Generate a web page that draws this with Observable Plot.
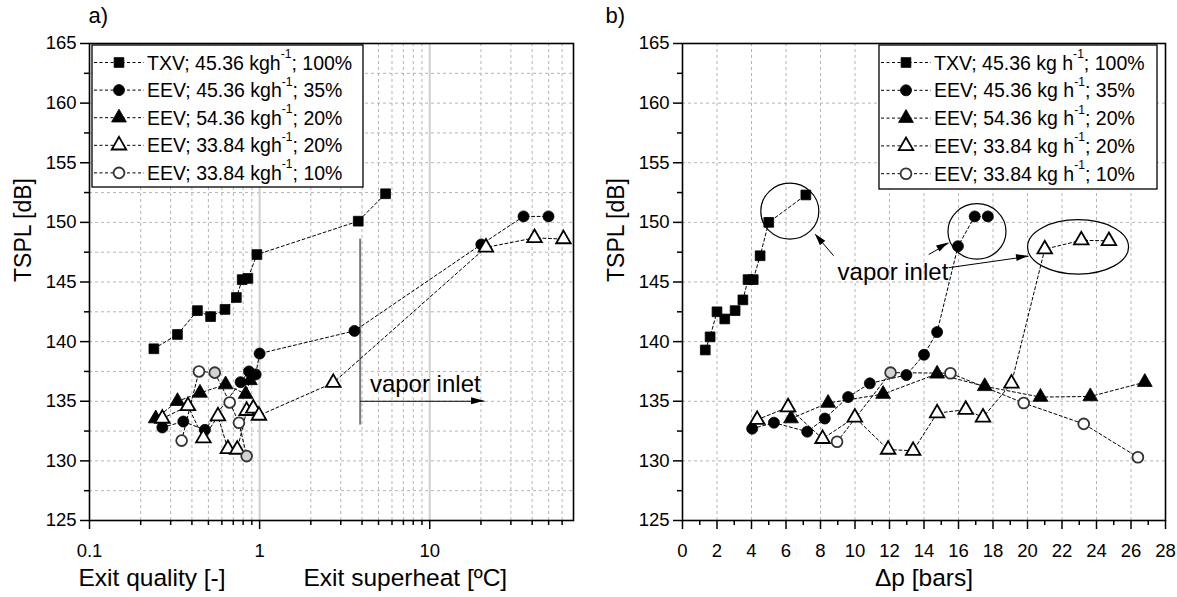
<!DOCTYPE html>
<html><head><meta charset="utf-8">
<script src="https://cdn.jsdelivr.net/npm/d3@7"></script>
<script src="https://cdn.jsdelivr.net/npm/@observablehq/plot@0.6"></script>
<style>
html,body{margin:0;padding:0;background:#fff;}
#wrap{position:relative;width:1177px;height:597px;overflow:hidden;font-family:"Liberation Sans",Arial,sans-serif;}
#pa,#pb{position:absolute;top:0;}
#pa{left:0;} #pb{left:588px;}
</style></head><body>
<div id="wrap"><div id="pa"></div><div id="pb"></div></div>
<script>
// ---------- series meta ----------
const seriesLead = ["TXV; 45.36 ", "EEV; 45.36 ", "EEV; 54.36 ", "EEV; 33.84 ", "EEV; 33.84 "];
const seriesPct = ["; 100%", "; 35%", "; 20%", "; 20%", "; 10%"];
const seriesSymbol = ["square", "circle", "triangle", "triangle", "circle"];
const seriesFill = ["black", "black", "black", "white", "white"];
const seriesStroke = ["black", "black", "black", "black", "#333"];

// ---------- panel a) : TSPL vs exit quality / exit superheat ----------
const txvExitA = [0.239, 0.329, 0.431, 0.515, 0.626, 0.73, 0.79, 0.853, 0.964, 3.8, 5.5];
const txvTsplA = [139.4, 140.6, 142.6, 142.1, 142.7, 143.7, 145.2, 145.3, 147.3, 150.1, 152.4];
const eev35ExitA = [0.268, 0.356, 0.477, 0.773, 0.866, 0.948, 1.0, 3.61, 20.1, 35.6, 49.9];
const eev35TsplA = [132.8, 133.3, 132.6, 136.6, 137.5, 137.25, 139.0, 140.9, 148.15, 150.5, 150.5];
const eev54ExitA = [0.245, 0.329, 0.446, 0.631, 0.828, 0.877];
const eev54TsplA = [133.55, 135.0, 135.7, 136.4, 135.6, 136.75];
const eev3320ExitA = [0.268, 0.379, 0.467, 0.569, 0.651, 0.739, 0.839, 0.918, 0.991, 2.71, 21.4, 41.3, 61.1];
const eev3320TsplA = [133.55, 134.6, 131.9, 133.75, 131.0, 130.95, 134.2, 134.4, 133.8, 136.55, 147.9, 148.7, 148.6];
const eev3310ExitA = [0.348, 0.440, 0.545, 0.667, 0.756, 0.839];
const eev3310TsplA = [131.7, 137.5, 137.4, 134.9, 133.2, 130.4];
const eev3310GrayA = [false, false, true, false, false, true];

// ---------- panel b) : TSPL vs pressure drop ----------
const txvDpB = [1.32, 1.6, 2.0, 2.45, 3.05, 3.5, 3.8, 4.1, 4.5, 5.0, 7.15];
const txvTsplB = [139.3, 140.4, 142.5, 141.9, 142.6, 143.5, 145.2, 145.2, 147.2, 150.0, 152.3];
const eev35DpB = [4.04, 5.3, 7.23, 8.25, 9.6, 10.86, 12.98, 14.0, 14.76, 15.97, 16.94, 17.7];
const eev35TsplB = [132.7, 133.2, 132.45, 133.55, 135.35, 136.5, 137.2, 138.9, 140.8, 148.0, 150.5, 150.5];
const eev54DpB = [6.29, 8.44, 11.63, 14.76, 17.52, 20.75, 23.64, 26.8];
const eev54TsplB = [133.55, 134.85, 135.6, 137.3, 136.25, 135.35, 135.4, 136.6];
const eev3320DpB = [4.33, 6.12, 8.12, 9.99, 11.92, 13.37, 14.76, 16.42, 17.42, 19.07, 21.0, 23.12, 24.72];
const eev3320TsplB = [133.45, 134.5, 131.85, 133.65, 130.95, 130.85, 134.0, 134.3, 133.65, 136.5, 147.75, 148.5, 148.45];
const eev3310DpB = [8.96, 12.06, 15.53, 19.78, 23.26, 26.4];
const eev3310TsplB = [131.6, 137.4, 137.35, 134.85, 133.1, 130.3];
const eev3310GrayB = [false, true, false, false, false, false];

// ---------- ticks ----------
const yMajor = [125, 130, 135, 140, 145, 150, 155, 160, 165];
const yMinor = [127.5, 132.5, 137.5, 142.5, 147.5, 152.5, 157.5, 162.5];
const xMajorA = [0.1, 1, 10];
const xMinorA = [0.2,0.3,0.4,0.5,0.6,0.7,0.8,0.9,2,3,4,5,6,7,8,9,20,30,40,50,60];
const xMajorB = [0,2,4,6,8,10,12,14,16,18,20,22,24,26,28];
const xMinorB = [1,3,5,7,9,11,13,15,17,19,21,23,25,27];

// ---------- annotations ----------
const annA = {vline: {x: 3.9, y1: 133.0, y2: 148.6}, arrow: {x1: 3.9, x2: 21.0, y: 135.0}, text: {x: 4.45, y: 135.8}};
const annB = {
  ellipses: [{x: 6.25, y: 150.9, rx: 29, ry: 28}, {x: 17.1, y: 149.2, rx: 29, ry: 27.7}, {x: 22.96, y: 147.9, rx: 50.5, ry: 27.2}],
  arrows: [{x1: 8.76, y1: 147.2, x2: 7.70, y2: 149.0}, {x1: 14.27, y1: 147.3, x2: 15.43, y2: 148.26}, {x1: 15.43, y1: 146.2, x2: 20.06, y2: 147.15}],
  text: {x: 15.41, y: 145.13}
};

const FONT = '"Liberation Sans", Arial, sans-serif';

function rows(xs, ys, gray) {
  return xs.map((x, i) => ({x, y: ys[i], gray: gray ? gray[i] : false}));
}

function seriesMarks(list) {
  const m = [];
  list.forEach((data, i) => {
    m.push(Plot.line(data, {x: "x", y: "y", stroke: "black", strokeWidth: 1, strokeDasharray: "3,2.5"}));
  });
  list.forEach((data, i) => {
    const open = seriesFill[i] === "white";
    m.push(Plot.dot(data, {
      x: "x", y: "y", symbol: seriesSymbol[i],
      r: open ? 5.4 : 5.5,
      fill: d => d.gray ? "#d2d2d2" : seriesFill[i],
      stroke: seriesStroke[i],
      strokeWidth: open ? 1.8 : 0.8
    }));
  });
  return m;
}

function commonAxes(xMajor, xMinor, fmt) {
  return [
    Plot.axisY(yMajor, {tickSize: 9, tickPadding: 4, fontSize: 18.5, strokeWidth: 1.5, tickFormat: d => String(d), label: null}),
    Plot.axisY(yMinor, {tickSize: 5, strokeWidth: 1.5, tickFormat: () => "", label: null}),
    Plot.axisX(xMajor, {tickSize: 9, tickPadding: 14, fontSize: 18.5, strokeWidth: 1.5, tickFormat: fmt, label: null}),
    Plot.axisX(xMinor, {tickSize: 5, strokeWidth: 1.5, tickFormat: () => "", label: null}),
  ];
}

function drawLegend(svg, box, unit) {
  const g = d3.select(svg).append("g").attr("font-family", FONT).attr("text-anchor", "start");
  g.append("rect").attr("x", box.x).attr("y", box.y).attr("width", box.w).attr("height", box.h)
    .attr("fill", "white").attr("stroke", "black").attr("stroke-width", 1.3);
  const symMap = {square: d3.symbolSquare, circle: d3.symbolCircle, triangle: d3.symbolTriangle};
  seriesLead.forEach((lead, i) => {
    const cy = box.y + box.row0 + i * box.step;
    g.append("line").attr("x1", box.x + 2).attr("x2", box.x + 52).attr("y1", cy).attr("y2", cy)
      .attr("stroke", "black").attr("stroke-dasharray", "3,2.5");
    const open = seriesFill[i] === "white";
    const r = open ? 5.4 : 5.5;
    g.append("path").attr("d", d3.symbol(symMap[seriesSymbol[i]], Math.PI * r * r)())
      .attr("transform", `translate(${box.x + 27},${cy})`)
      .attr("fill", seriesFill[i]).attr("stroke", seriesStroke[i]).attr("stroke-width", open ? 1.8 : 0.8);
    const t = g.append("text").attr("x", box.x + 55).attr("y", cy).attr("dy", "0.36em")
      .attr("font-size", box.fs).attr("fill", "black").attr("text-anchor", "start");
    t.append("tspan").text(lead + unit);
    t.append("tspan").attr("font-size", box.fs * 0.62).attr("dy", "-0.95em").text("-1");
    t.append("tspan").attr("dy", "0.59em").text(seriesPct[i]);
  });
}

function arrowHead(g, x1, y1, x2, y2, len, half) {
  const a = Math.atan2(y2 - y1, x2 - x1);
  const bx = x2 - len * Math.cos(a), by = y2 - len * Math.sin(a);
  const nx = -Math.sin(a) * half, ny = Math.cos(a) * half;
  g.append("path").attr("d", `M${x2},${y2}L${bx + nx},${by + ny}L${bx - nx},${by - ny}Z`).attr("fill", "black");
}

// ---------------- Panel a ----------------
const seriesA = [
  rows(txvExitA, txvTsplA), rows(eev35ExitA, eev35TsplA), rows(eev54ExitA, eev54TsplA),
  rows(eev3320ExitA, eev3320TsplA), rows(eev3310ExitA, eev3310TsplA, eev3310GrayA)
];
const plotA = Plot.plot({
  width: 588, height: 597,
  marginLeft: 89, marginRight: 15, marginTop: 43, marginBottom: 77,
  style: {fontFamily: FONT, fontSize: "18px", background: "white", color: "black", overflow: "visible"},
  x: {type: "log", domain: [0.1, 70]},
  y: {domain: [125, 165]},
  marks: [
    Plot.gridY(yMajor.concat(yMinor).filter(v => v > 125 && v < 165), {stroke: "#b4b4b4", strokeOpacity: 1, strokeDasharray: "3,3", strokeWidth: 1}),
    Plot.gridX(xMinorA, {stroke: "#b4b4b4", strokeOpacity: 1, strokeDasharray: "3,3", strokeWidth: 1}),
    Plot.gridX([1, 10], {stroke: "#cfcfcf", strokeOpacity: 1, strokeWidth: 2}),
    Plot.ruleX([annA.vline], {x: "x", y1: "y1", y2: "y2", stroke: "#7a7a7a", strokeWidth: 2}),
    Plot.link([annA.arrow], {x1: "x1", x2: "x2", y1: "y", y2: "y", stroke: "black", strokeWidth: 1}),
    Plot.text(["vapor inlet"], {x: annA.text.x, y: annA.text.y, text: d => d, textAnchor: "start", lineAnchor: "bottom", fontSize: 24}),
    ...seriesMarks(seriesA),
    Plot.frame({stroke: "black", strokeWidth: 1.6}),
    ...commonAxes(xMajorA, xMinorA, d => String(d)),
    Plot.text(["a)"], {frameAnchor: "top-left", text: d => d, dx: -1, dy: -28, textAnchor: "start", lineAnchor: "middle", fontSize: 22}),
    Plot.text(["TSPL [dB]"], {frameAnchor: "left", text: d => d, dx: -66, rotate: -90, lineAnchor: "middle", fontSize: 23}),
    Plot.text(["Exit quality [-]"], {frameAnchor: "bottom-left", text: d => d, dx: -11, dy: 58, textAnchor: "start", lineAnchor: "middle", fontSize: 24.5}),
    Plot.text(["Exit superheat [ºC]"], {frameAnchor: "bottom-left", text: d => d, dx: 214, dy: 58, textAnchor: "start", lineAnchor: "middle", fontSize: 24.5})
  ]
});
document.getElementById("pa").appendChild(plotA);
{
  const sx = plotA.scale("x"), sy = plotA.scale("y");
  const g = d3.select(plotA).append("g");
  const ar = annA.arrow;
  arrowHead(g, sx.apply(ar.x1), sy.apply(ar.y), sx.apply(ar.x2), sy.apply(ar.y), 13, 3.5);
  drawLegend(plotA, {x: 92, y: 45, w: 271, h: 142, row0: 17.5, step: 27.6, fs: 19.5}, "kgh");
}

// ---------------- Panel b ----------------
const seriesB = [
  rows(txvDpB, txvTsplB), rows(eev35DpB, eev35TsplB), rows(eev54DpB, eev54TsplB),
  rows(eev3320DpB, eev3320TsplB), rows(eev3310DpB, eev3310TsplB, eev3310GrayB)
];
const plotB = Plot.plot({
  width: 589, height: 597,
  marginLeft: 94, marginRight: 12, marginTop: 43, marginBottom: 77,
  style: {fontFamily: FONT, fontSize: "18px", background: "white", color: "black", overflow: "visible"},
  x: {domain: [0, 28]},
  y: {domain: [125, 165]},
  marks: [
    Plot.gridY(yMajor.filter(v => v > 125 && v < 165), {stroke: "#b4b4b4", strokeOpacity: 1, strokeDasharray: "3,3", strokeWidth: 1}),
    Plot.gridX(xMajorB.filter(v => v > 0 && v < 28), {stroke: "#b4b4b4", strokeOpacity: 1, strokeDasharray: "3,3", strokeWidth: 1}),
    Plot.text(["vapor inlet"], {x: annB.text.x, y: annB.text.y, text: d => d, textAnchor: "end", lineAnchor: "bottom", fontSize: 24}),
    Plot.link(annB.arrows, {x1: "x1", x2: "x2", y1: "y1", y2: "y2", stroke: "black", strokeWidth: 1}),
    ...seriesMarks(seriesB),
    Plot.frame({stroke: "black", strokeWidth: 1.6}),
    ...commonAxes(xMajorB, xMinorB, d => String(d)),
    Plot.text(["b)"], {frameAnchor: "top-left", text: d => d, dx: -77, dy: -28, textAnchor: "start", lineAnchor: "middle", fontSize: 22}),
    Plot.text(["TSPL [dB]"], {frameAnchor: "left", text: d => d, dx: -66, rotate: -90, lineAnchor: "middle", fontSize: 23}),
    Plot.text(["\u0394p [bars]"], {frameAnchor: "bottom", text: d => d, dy: 58, lineAnchor: "middle", fontSize: 24.5})
  ]
});
document.getElementById("pb").appendChild(plotB);
{
  const sx = plotB.scale("x"), sy = plotB.scale("y");
  const g = d3.select(plotB).append("g");
  annB.ellipses.forEach(e => {
    g.append("ellipse").attr("cx", sx.apply(e.x)).attr("cy", sy.apply(e.y)).attr("rx", e.rx).attr("ry", e.ry)
      .attr("fill", "none").attr("stroke", "black").attr("stroke-width", 1.2);
  });
  annB.arrows.forEach(a => arrowHead(g, sx.apply(a.x1), sy.apply(a.y1), sx.apply(a.x2), sy.apply(a.y2), 12, 3.5));
  drawLegend(plotB, {x: 291, y: 45, w: 278, h: 144, row0: 17.5, step: 27.8, fs: 19.5}, "kg h");
}
</script>
</body></html>
